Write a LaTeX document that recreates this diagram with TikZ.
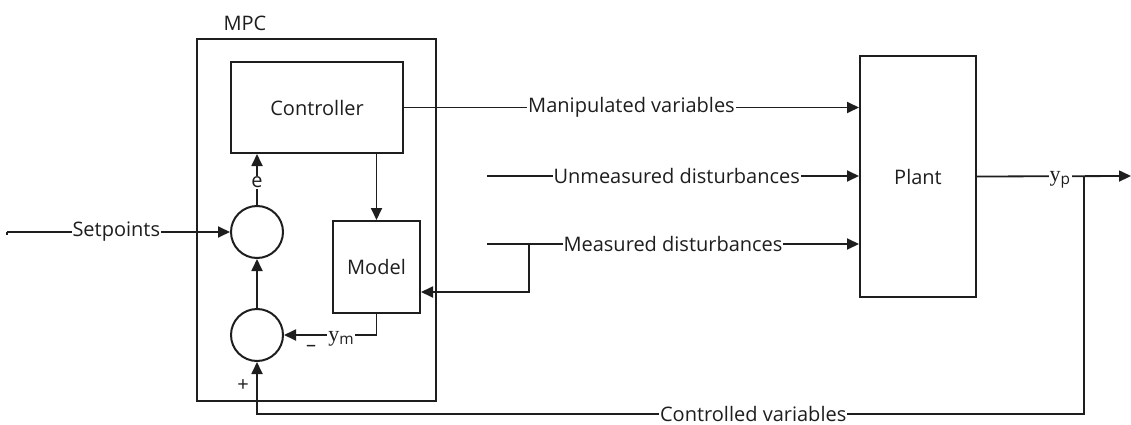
\documentclass[tikz,border=0pt]{standalone}
\usepackage{fontspec}
\setmainfont{Open Sans}
\newfontfamily\serifb{Liberation Serif}
\usetikzlibrary{arrows.meta,calc}
\definecolor{ink}{HTML}{1E1E1E}
\begin{document}
\begin{tikzpicture}[x=1pt,y=-1pt,
  line width=1.8pt, draw=ink, text=ink,
  box/.style={draw=ink, line width=2pt, inner sep=0pt, font=\fontsize{20}{23}\selectfont},
  sumc/.style={draw=ink, circle, line width=2pt, minimum size=52pt, inner sep=0pt},
  lbl/.style={fill=white, inner sep=1pt, font=\fontsize{20}{23}\selectfont},
  var/.style={fill=white, inner sep=1pt, font=\serifb\fontsize{22}{24}\selectfont},
  arr/.style={-{Triangle[length=12pt,width=11pt]}}
]
\useasboundingbox (0,0) rectangle (1131,425);
\node[box, minimum width=239pt, minimum height=362pt] (mpc) at (316.5,220) {};
\node[font=\fontsize{20}{23}\selectfont] (mpclabel) at (245,23) {MPC};
\node[box, minimum width=172pt, minimum height=91pt] (ctrl) at (317,107.5) {Controller};
\node[box, minimum width=87pt, minimum height=92pt] (model) at (376.5,267) {Model};
\node[box, minimum width=116pt, minimum height=241pt] (plant) at (918,176.5) {Plant};
\node[sumc] (s1) at (257,232) {};
\node[sumc] (s2) at (257,335) {};
\coordinate (spin) at (7,232);
\coordinate (udin) at (487,176);
\coordinate (mdin) at (487,244);
\coordinate (mdj) at (529,244);
\coordinate (ypj) at (1084,176);
\coordinate (ypout) at (1131,176);
\coordinate (cvb) at (1084,414);
% setpoints
\draw (spin) -- ++(0,3);
\draw[arr] (spin) -- node[lbl, pos=0.49]{Setpoints} (s1.west);
% controller to plant
\draw[arr] (ctrl.east) -- node[lbl]{Manipulated variables} (ctrl.east -| plant.west);
\draw[arr] (udin) -- node[lbl, pos=0.51]{Unmeasured disturbances} (udin -| plant.west);
\draw[arr] (mdin) -- node[lbl, pos=0.5]{Measured disturbances} (mdin -| plant.west);
\draw[arr] (mdj) |- ($(model.east)+(0,25)$);
% inside MPC
\draw[arr] (model.north |- ctrl.south) -- (model.north);
\draw[arr] (s1.north) -- node[lbl, pos=0.45]{e} (s1.north |- ctrl.south);
\draw[arr] (s2.north) -- (s1.south);
\draw[arr] (model.south) |- node[var, pos=0.69, yshift=-4pt]{y$_{\mathrm{m}}$} (s2.east);
\node[font=\fontsize{20}{23}\selectfont] (minus) at (311,348) {–};
\node[font=\fontsize{20}{23}\selectfont] (plus) at (243,386) {+};
% plant output
\draw[arr] (plant.east) -- node[var, pos=0.54, yshift=-4pt]{y$_{\mathrm{p}}$} (ypout);
\draw[arr] (ypj) -- (cvb) -| node[lbl, pos=0.2]{Controlled variables} (s2.south);
\end{tikzpicture}
\end{document}
